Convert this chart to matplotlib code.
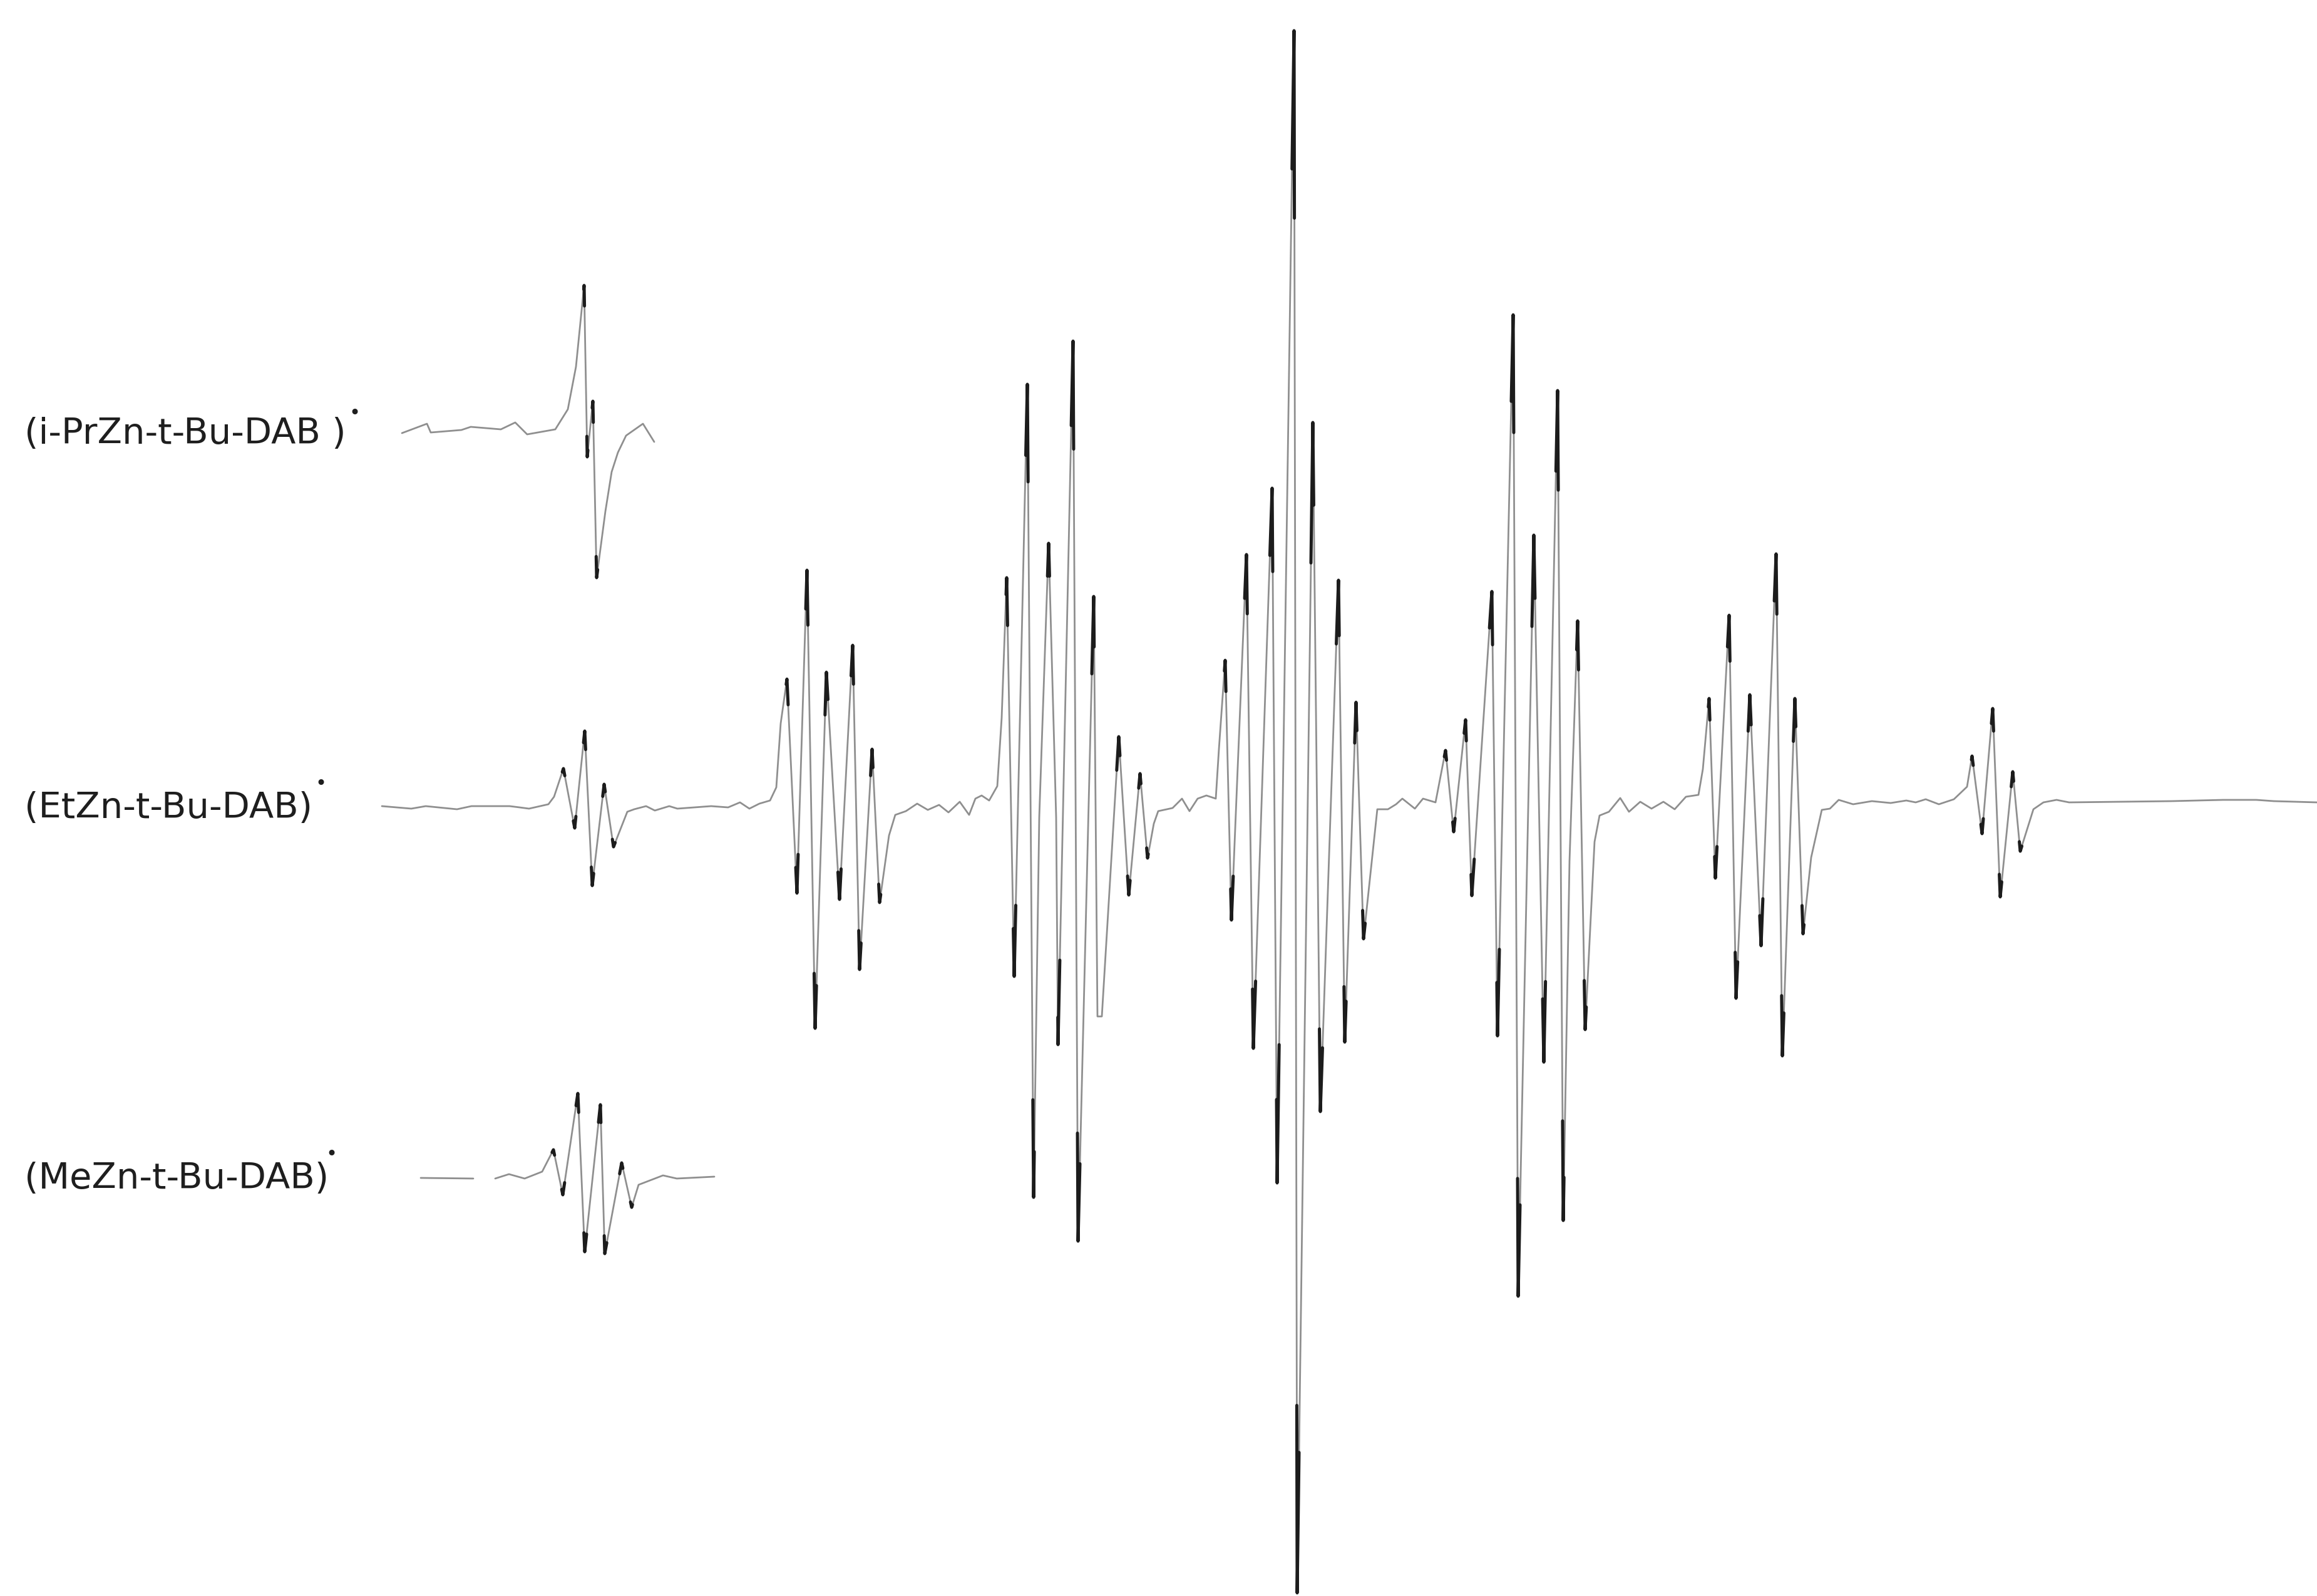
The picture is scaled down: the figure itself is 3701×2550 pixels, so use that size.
import matplotlib
matplotlib.use("Agg")
import matplotlib.pyplot as plt
import numpy as np

# ---------------- data (field position, signal amplitude) -------------
field_et = [610, 657, 680, 730, 753, 814, 830, 845, 876, 885, 900, 918, 934, 946, 965, 980,
            1002, 1013, 1032, 1046, 1069, 1082, 1136, 1163, 1182, 1197, 1213, 1230, 1240, 1247,
            1257, 1273, 1289, 1302, 1320, 1341, 1362, 1373, 1393, 1405, 1420, 1430, 1447, 1465,
            1482, 1500, 1515, 1533, 1548, 1558, 1568, 1580, 1593, 1600, 1608, 1620, 1641, 1651,
            1660, 1675, 1687, 1690, 1714, 1722, 1747, 1753, 1760, 1787, 1803, 1821, 1833, 1843,
            1850, 1873, 1888, 1900, 1913, 1927, 1942, 1947, 1957, 1967, 1991, 2002, 2032, 2040,
            2067, 2072, 2097, 2109, 2138, 2148, 2166, 2178, 2200, 2217, 2230, 2240, 2260, 2273,
            2293, 2309, 2322, 2341, 2351, 2383, 2392, 2417, 2425, 2450, 2466, 2488, 2497, 2507,
            2520, 2532, 2547, 2555, 2570, 2588, 2602, 2620, 2638, 2657, 2675, 2693, 2713, 2720,
            2730, 2740, 2762, 2773, 2795, 2813, 2837, 2847, 2867, 2880, 2893, 2910, 2923, 2937,
            2960, 2990, 3020, 3045, 3060, 3076, 3097, 3121, 3142, 3150, 3166, 3183, 3195, 3215,
            3227, 3248, 3264, 3285, 3305, 3469, 3551, 3604, 3632, 3701]
signal_et = [0, -4, 0, -5, 0, 0, -2, -4, 3, 15, 60, -35, 120, -127, 35, -65,
             -9, -5, 0, -7, 0, -4, 0, -2, 6, -4, 4, 9, 30, 132,
             203, -139, 377, -355, 214, -149, 257, -261, 91, -154, -47, -14, -8, 4,
             -6, 2, -10, 7, -14, 12, 17, 9, 32, 141, 365, -272, 674, -625,
             -18, 420, -18, -381, 743, -695, 335, -336, -336, 111, -142, 52, -83, -28,
             -8, -3, 12, -8, 12, 17, 12, 91, 233, -182, 402, -387, 508, -602,
             1239, -1257, 613, -488, 361, -377, 166, -212, -5, -5, 3, 12, -4, 12,
             6, 89, -41, 138, -143, 343, -367, 785, -783, 433, -409, 664, -662, -88,
             296, -357, -57, -15, -9, 13, -9, 7, -4, 7, -5, 15, 18, 59,
             172, -115, 305, -307, 178, -223, 403, -399, 172, -204, -82, -6, -4, 10,
             3, 8, 5, 9, 6, 11, 3, 11, 31, 80, -44, 156, -145, 55,
             -72, -5, 6, 10, 6, 8, 10, 10, 8, 6]

field_ipr = [642, 682, 688, 737, 752, 800, 823, 842, 887, 907, 920, 928, 933, 938, 947,
             953, 967, 977, 987, 1000, 1027, 1045]
signal_ipr = [0, 15, 1, 5, 10, 6, 17, -2, 6, 38, 106, 186, 236, -38, 51,
              -231, -125, -62, -31, -4, 15, -14]

field_me = [672, 756, np.nan, 791, 813, 838, 866, 884, 899, 923, 934, 959, 966, 993, 1009,
            1020, 1059, 1081, 1141]
signal_me = [0, -1, np.nan, -1, 6, -1, 10, 45, -27, 135, -118, 117, -121, 24, -47,
             -11, 4, -1, 2]

labels = ["(i-PrZn-t-Bu-DAB )", "(EtZn-t-Bu-DAB)", "(MeZn-t-Bu-DAB)"]

# ---------------- figure -----------------------------------------------------------------
fig = plt.figure(figsize=(37.01, 25.50), dpi=100)
ax = fig.add_axes([0, 0, 1, 1])
ax.set_xlim(0, 3701)
ax.set_ylim(-1262, 1288)
ax.axis("off")

TRACE = "#8f8f8f"
TIP = "#1c1c1c"


def draw_trace(field, signal, offset):
    x = np.asarray(field, dtype=float)
    s = np.asarray(signal, dtype=float)
    y = s + offset
    ax.plot(x, y, color=TRACE, lw=2.0, solid_joinstyle="round", solid_capstyle="round")
    f = 0.12
    for i in range(1, len(x) - 1):
        if np.isnan(s[i - 1:i + 2]).any():
            continue
        a, b, c = s[i - 1], s[i], s[i + 1]
        if (b > a and b > c) or (b < a and b < c):
            if min(abs(b - a), abs(b - c)) < 25:
                continue
            xs = [x[i] + f * (x[i - 1] - x[i]), x[i], x[i] + f * (x[i + 1] - x[i])]
            ys = [y[i] + f * (y[i - 1] - y[i]), y[i], y[i] + f * (y[i + 1] - y[i])]
            ax.plot(xs, ys, color=TIP, lw=3.6, solid_capstyle="round",
                    solid_joinstyle="round")


draw_trace(field_ipr, signal_ipr, 596)
draw_trace(field_et, signal_et, 0)
draw_trace(field_me, signal_me, -594)

label_y = [579, -19, -611]
dot_xy = [(566, 627), (512, 36), (529, -556)]
for lab, ly, (dx, dy) in zip(labels, label_y, dot_xy):
    ax.text(39, ly, lab, fontsize=41.4, family="DejaVu Sans", color="#1e1e1e",
            ha="left", va="baseline")
    ax.text(dx, dy, "\u2022", fontsize=22, family="DejaVu Sans", color="#1e1e1e",
            ha="center", va="center")

fig.savefig("out.png", dpi=100, facecolor="white")
